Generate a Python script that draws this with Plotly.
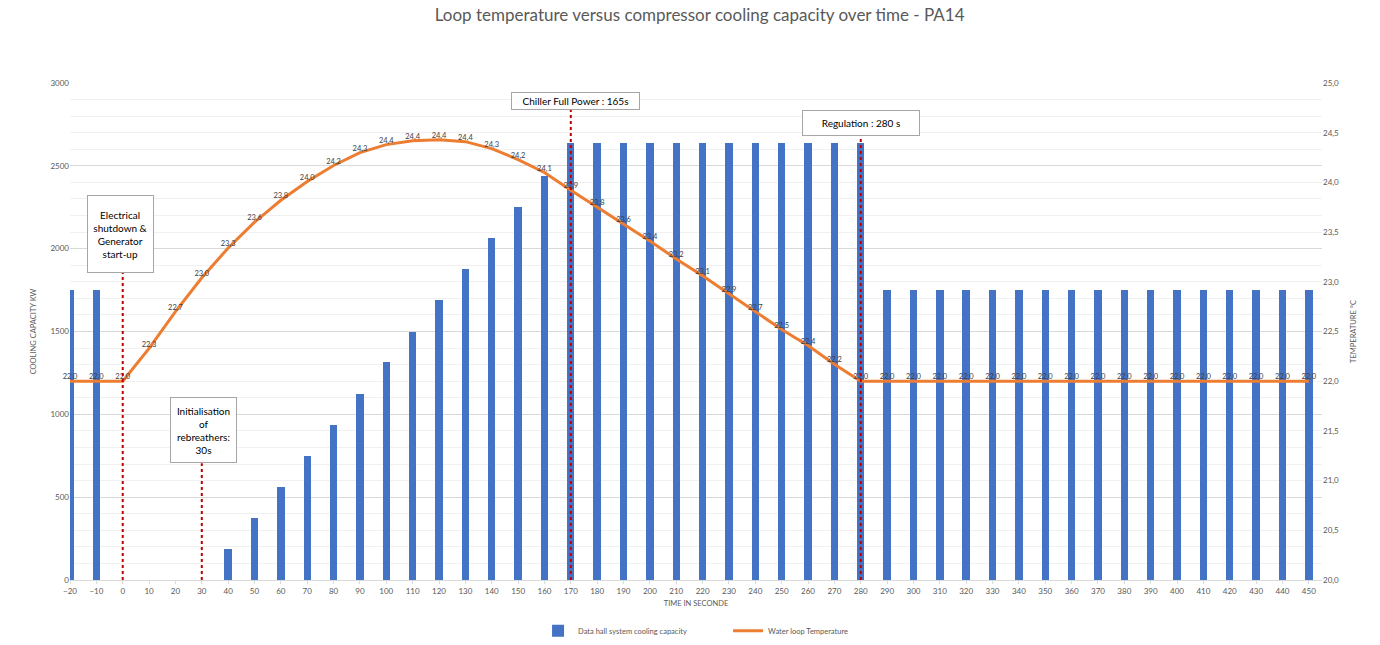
import plotly.graph_objects as go

# ---- data ----
time_s = [-20, -10, 0, 10, 20, 30, 40, 50, 60, 70, 80, 90, 100, 110, 120, 130, 140, 150, 160,
          170, 180, 190, 200, 210, 220, 230, 240, 250, 260, 270, 280, 290, 300, 310, 320, 330,
          340, 350, 360, 370, 380, 390, 400, 410, 420, 430, 440, 450]
cooling_kw = [1750, 1750, 0, 0, 0, 0, 188, 375, 563, 750, 938, 1125, 1313, 1500, 1688, 1875,
              2063, 2250, 2438, 2640, 2640, 2640, 2640, 2640, 2640, 2640, 2640, 2640, 2640, 2640,
              2640, 1750, 1750, 1750, 1750, 1750, 1750, 1750, 1750, 1750, 1750, 1750, 1750, 1750,
              1750, 1750, 1750, 1750]
temp_c = [22.0, 22.0, 22.0, 22.33, 22.70, 23.04, 23.34, 23.60, 23.82, 24.01, 24.17, 24.30, 24.38,
          24.42, 24.43, 24.41, 24.34, 24.23, 24.10, 23.92, 23.75, 23.58, 23.41, 23.23, 23.06,
          22.88, 22.70, 22.52, 22.36, 22.17, 22.0, 22.0, 22.0, 22.0, 22.0, 22.0, 22.0, 22.0,
          22.0, 22.0, 22.0, 22.0, 22.0, 22.0, 22.0, 22.0, 22.0, 22.0]
event_times = [0, 30, 170, 280]
event_labels = ["Electrical<br>shutdown &<br>Generator<br>start-up",
                "Initialisation<br>of<br>rebreathers:<br>30s",
                "Chiller Full Power : 165s",
                "Regulation : 280 s"]

FONT = "Lato"
GRAY = "#595959"

fig = go.Figure()
fig.add_trace(go.Bar(x=time_s, y=cooling_kw, name="Data hall system cooling capacity",
                     marker=dict(color="#4472C4", line=dict(width=0)), width=2.8, yaxis="y"))
fig.add_trace(go.Scatter(x=time_s, y=temp_c, name="Water loop Temperature", yaxis="y2",
                         mode="lines+text", line=dict(color="#ED7D31", width=3),
                         text=temp_c, texttemplate="%{y:.1f}", textposition="top center",
                         textfont=dict(size=7.5, color="#404040", family=FONT), cliponaxis=False))

# event boxes (paper y of box bottom) and dotted red lines
box_bottom = [0.618, 0.235, 0.946, 0.893]
box_w = [65, 65, 127, 116]
box_h = [76, 64, 16, 24]
box_xshift = [-2, 2, 5, 0]
for t, lab, yb, w, h, xs in zip(event_times, event_labels, box_bottom, box_w, box_h, box_xshift):
    fig.add_shape(type="line", xref="x", yref="paper", x0=t, x1=t, y0=0, y1=yb,
                  line=dict(color="#C00000", width=2, dash="dot"), layer="above")
    fig.add_annotation(x=t, y=yb, xref="x", yref="paper", text=lab, showarrow=False,
                       xanchor="center", yanchor="bottom", xshift=xs,
                       width=w, height=h, borderpad=0, bgcolor="white",
                       bordercolor="#A6A6A6", borderwidth=1,
                       font=dict(family=FONT, size=10, color="#000000"))

fig.update_layout(
    width=1380, height=645,
    margin=dict(l=70, r=58, t=83, b=65, autoexpand=False),
    paper_bgcolor="white", plot_bgcolor="white",
    separators=", ",
    title=dict(text="Loop temperature versus compressor cooling capacity over time - PA14",
               x=0.507, xanchor="center", y=0.977, yanchor="middle",
               font=dict(family=FONT, size=17, color=GRAY)),
    font=dict(family=FONT, size=8, color=GRAY),
    xaxis=dict(range=[-20, 455], tick0=0, dtick=10, showgrid=False, zeroline=False,
               showline=True, linecolor="#D9D9D9", linewidth=1,
               ticks="outside", ticklen=3, tickcolor="#D9D9D9",
               tickfont=dict(size=8, color=GRAY),
               title=dict(text="TIME IN SECONDE", font=dict(size=7.5, color=GRAY), standoff=6)),
    yaxis=dict(range=[0, 3000], dtick=500, showgrid=True, gridcolor="#D9D9D9", zeroline=False,
               tickfont=dict(size=8, color=GRAY), ticks="",
               minor=dict(dtick=100, showgrid=True, gridcolor="#F0F0F0"),
               title=dict(text="COOLING CAPACITY KW", font=dict(size=7.5, color=GRAY), standoff=12)),
    yaxis2=dict(range=[20, 25], dtick=0.5, tickformat=".1f", overlaying="y", side="right",
                showgrid=False, zeroline=False, tickfont=dict(size=8, color=GRAY),
                title=dict(text="TEMPERATURE °C", font=dict(size=7.5, color=GRAY), standoff=12)),
    legend=dict(orientation="h", x=0.5256, xanchor="center", yref="container", y=0.022,
                yanchor="middle", font=dict(size=7.5, color=GRAY),
                entrywidth=145, entrywidthmode="pixels"),
    bargap=0,
)

fig.write_html("out.html")
